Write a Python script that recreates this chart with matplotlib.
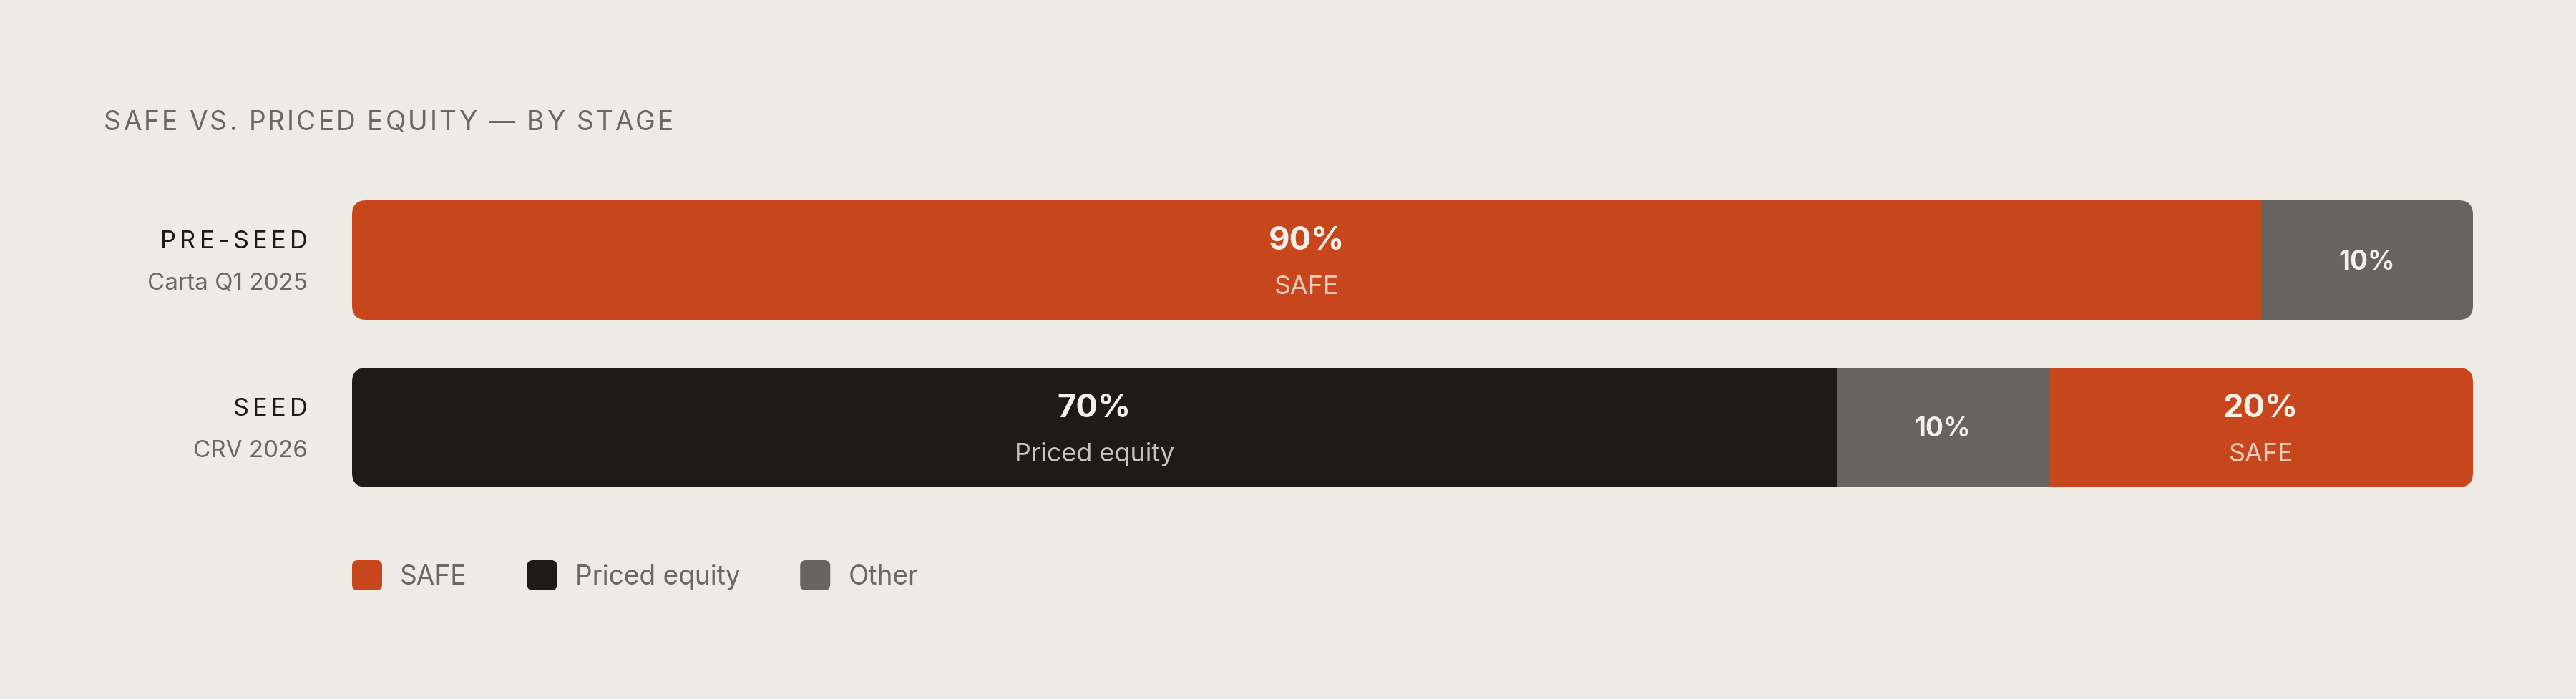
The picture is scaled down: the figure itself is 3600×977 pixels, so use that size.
import matplotlib
matplotlib.use("Agg")
import matplotlib.pyplot as plt
from matplotlib.patches import FancyBboxPatch
from matplotlib.font_manager import FontProperties, findfont, get_font

# ---------------- data ----------------
stages = ["PRE-SEED", "SEED"]
sources = ["Carta Q1 2025", "CRV 2026"]
preseed_labels = ["SAFE", "Other"]
preseed_values = [90, 10]
seed_labels = ["Priced equity", "Other", "SAFE"]
seed_values = [70, 10, 20]
legend_labels = ["SAFE", "Priced equity", "Other"]
title = "SAFE VS. PRICED EQUITY \u2014 BY STAGE"

segment_labels = [preseed_labels, seed_labels]
segment_values = [preseed_values, seed_values]

# ---------------- style ----------------
BG = "#eeebe4"
COLORS = {"SAFE": "#c8461b", "Priced equity": "#1c1b18", "Other": "#666460"}
INK = "#1c1b18"
MUTED = "#6b6862"
LIGHT = "#f3efe9"
FONT = "Inter"

W, H, DPI = 3600, 978, 100
fig = plt.figure(figsize=(W / DPI, H / DPI), dpi=DPI, facecolor=BG)
PX = 72.0 / DPI  # points per pixel

# axes covering the bar block
ax = fig.add_axes([492 / W, (H - 682) / H, 2964 / W, 401 / H])
ax.set_xlim(0, 100)
ax.set_ylim(1.357, -0.357)
ax.axis("off")
ax.set_facecolor("none")

BAR_H = 0.714
RADIUS_PX = 20
px_per_x = 2964 / 100.0
px_per_y = 401 / 1.714
rounding = RADIUS_PX / px_per_x
aspect = (1 / px_per_y) / (1 / px_per_x)


def advances(s, prop):
    font = get_font(findfont(prop))
    font.set_size(prop.get_size_in_points(), DPI)
    out = []
    for c in s:
        g = font.load_char(ord(c))
        out.append(g.linearHoriAdvance / 65536.0)
    return out


def tracked(x_px, y_px, s, prop, color, tracking_px, ha="left"):
    """x_px, y_px: display pixels from bottom-left, baseline."""
    adv = advances(s, prop)
    total = sum(adv) + tracking_px * (len(s) - 1)
    x = x_px - total if ha == "right" else x_px
    for c, a in zip(s, adv):
        if c != " ":
            fig.text(x / W, y_px / H, c, fontproperties=prop, color=color,
                     ha="left", va="baseline")
        x += a + tracking_px


def fit_tracking(s, prop, target_px):
    adv = advances(s, prop)
    return (target_px - sum(adv)) / (len(s) - 1)


# ---------------- title ----------------
title_prop = FontProperties(family=FONT, size=26.7, weight="normal")
t_track = fit_tracking(title, title_prop, 796)
tracked(145, H - 182, title, title_prop, MUTED, t_track)

# ---------------- bars ----------------
pct_big = FontProperties(family=FONT, size=32.7, weight="bold")
pct_small = FontProperties(family=FONT, size=26.7, weight="bold")
seg_prop = FontProperties(family=FONT, size=25.8, weight="normal")

for i, (labs, vals) in enumerate(zip(segment_labels, segment_values)):
    clip = FancyBboxPatch((0, i - BAR_H / 2), 100, BAR_H,
                          boxstyle=f"round,pad=0,rounding_size={rounding}",
                          mutation_aspect=aspect, facecolor="none",
                          edgecolor="none", transform=ax.transData)
    ax.add_patch(clip)
    left = 0
    for lab, v in zip(labs, vals):
        bars = ax.barh(i, v, left=left, height=BAR_H, color=COLORS[lab],
                       linewidth=0)
        for b in bars:
            b.set_clip_path(clip)
        cx = left + v / 2
        if v >= 15:
            ax.annotate(f"{v}%", xy=(cx, i), xytext=(0, 15.5 * PX),
                        textcoords="offset points", ha="center",
                        va="baseline", fontproperties=pct_big, color=LIGHT)
            ax.annotate(lab, xy=(cx, i), xytext=(0, -46.3 * PX),
                        textcoords="offset points", ha="center",
                        va="baseline", fontproperties=seg_prop, color=LIGHT,
                        alpha=0.8)
        else:
            ax.annotate(f"{v}%", xy=(cx, i), xytext=(0, -12 * PX),
                        textcoords="offset points", ha="center",
                        va="baseline", fontproperties=pct_small, color=LIGHT)
        left += v

# ---------------- row labels ----------------
stage_prop = FontProperties(family=FONT, size=24.8, weight="normal")
src_prop = FontProperties(family=FONT, size=23.9, weight="normal")
s_track = fit_tracking(stages[0], stage_prop, 206)
for i, (st, src) in enumerate(zip(stages, sources)):
    cy = ax.transData.transform((0, i))[1]
    tracked(430, cy + 17.5, st, stage_prop, INK, s_track, ha="right")
    fig.text(430 / W, (cy - 40.5) / H, src, fontproperties=src_prop,
             color=MUTED, ha="right", va="baseline")

# ---------------- legend ----------------
leg_prop = FontProperties(family=FONT, size=26.7, weight="normal")
renderer = fig.canvas.get_renderer()
x = 492
SQ = 42
for lab in legend_labels:
    sq = FancyBboxPatch((x / DPI, (H - 826) / DPI), SQ / DPI, SQ / DPI,
                        boxstyle=f"round,pad=0,rounding_size={8 / DPI}",
                        facecolor=COLORS[lab], edgecolor="none",
                        transform=fig.dpi_scale_trans)
    fig.add_artist(sq)
    t = fig.text((x + 67) / W, (H - 816.7) / H, lab, fontproperties=leg_prop,
                 color=MUTED, ha="left", va="baseline")
    ext = t.get_window_extent(renderer)
    x = ext.x1 + 84

fig.savefig("out.png", dpi=DPI, facecolor=BG)
